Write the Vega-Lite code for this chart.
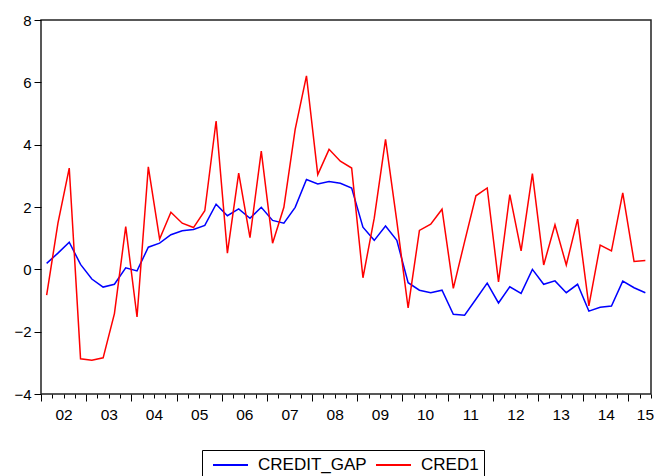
{
  "$schema": "https://vega.github.io/schema/vega-lite/v6.json",
  "width": 610,
  "height": 374,
  "autosize": {"type": "none"},
  "padding": {"left": 41, "top": 20, "right": 3, "bottom": 82},
  "background": "white",
  "config": {
    "font": "Liberation Sans",
    "view": {"stroke": "#222222", "strokeWidth": 1.5}
  },
  "data": {
    "values": [
      {"q": "2002Q1", "t": 2002.125, "CREDIT_GAP": 0.19, "CRED1": -0.83},
      {"q": "2002Q2", "t": 2002.375, "CREDIT_GAP": 0.52, "CRED1": 1.48},
      {"q": "2002Q3", "t": 2002.625, "CREDIT_GAP": 0.87, "CRED1": 3.25},
      {"q": "2002Q4", "t": 2002.875, "CREDIT_GAP": 0.16, "CRED1": -2.87},
      {"q": "2003Q1", "t": 2003.125, "CREDIT_GAP": -0.31, "CRED1": -2.92},
      {"q": "2003Q2", "t": 2003.375, "CREDIT_GAP": -0.57, "CRED1": -2.84},
      {"q": "2003Q3", "t": 2003.625, "CREDIT_GAP": -0.48, "CRED1": -1.42},
      {"q": "2003Q4", "t": 2003.875, "CREDIT_GAP": 0.05, "CRED1": 1.37},
      {"q": "2004Q1", "t": 2004.125, "CREDIT_GAP": -0.05, "CRED1": -1.53},
      {"q": "2004Q2", "t": 2004.375, "CREDIT_GAP": 0.71, "CRED1": 3.29},
      {"q": "2004Q3", "t": 2004.625, "CREDIT_GAP": 0.84, "CRED1": 0.97},
      {"q": "2004Q4", "t": 2004.875, "CREDIT_GAP": 1.11, "CRED1": 1.83},
      {"q": "2005Q1", "t": 2005.125, "CREDIT_GAP": 1.24, "CRED1": 1.48},
      {"q": "2005Q2", "t": 2005.375, "CREDIT_GAP": 1.28, "CRED1": 1.34},
      {"q": "2005Q3", "t": 2005.625, "CREDIT_GAP": 1.41, "CRED1": 1.88},
      {"q": "2005Q4", "t": 2005.875, "CREDIT_GAP": 2.09, "CRED1": 4.76},
      {"q": "2006Q1", "t": 2006.125, "CREDIT_GAP": 1.72, "CRED1": 0.52},
      {"q": "2006Q2", "t": 2006.375, "CREDIT_GAP": 1.94, "CRED1": 3.09},
      {"q": "2006Q3", "t": 2006.625, "CREDIT_GAP": 1.64, "CRED1": 1.02},
      {"q": "2006Q4", "t": 2006.875, "CREDIT_GAP": 1.99, "CRED1": 3.79},
      {"q": "2007Q1", "t": 2007.125, "CREDIT_GAP": 1.57, "CRED1": 0.84},
      {"q": "2007Q2", "t": 2007.375, "CREDIT_GAP": 1.48, "CRED1": 1.99},
      {"q": "2007Q3", "t": 2007.625, "CREDIT_GAP": 1.99, "CRED1": 4.49},
      {"q": "2007Q4", "t": 2007.875, "CREDIT_GAP": 2.88, "CRED1": 6.21},
      {"q": "2008Q1", "t": 2008.125, "CREDIT_GAP": 2.74, "CRED1": 3.04},
      {"q": "2008Q2", "t": 2008.375, "CREDIT_GAP": 2.82, "CRED1": 3.85},
      {"q": "2008Q3", "t": 2008.625, "CREDIT_GAP": 2.76, "CRED1": 3.47},
      {"q": "2008Q4", "t": 2008.875, "CREDIT_GAP": 2.61, "CRED1": 3.25},
      {"q": "2009Q1", "t": 2009.125, "CREDIT_GAP": 1.35, "CRED1": -0.27},
      {"q": "2009Q2", "t": 2009.375, "CREDIT_GAP": 0.93, "CRED1": 1.64},
      {"q": "2009Q3", "t": 2009.625, "CREDIT_GAP": 1.39, "CRED1": 4.17},
      {"q": "2009Q4", "t": 2009.875, "CREDIT_GAP": 0.93, "CRED1": 1.54},
      {"q": "2010Q1", "t": 2010.125, "CREDIT_GAP": -0.43, "CRED1": -1.24},
      {"q": "2010Q2", "t": 2010.375, "CREDIT_GAP": -0.67, "CRED1": 1.25},
      {"q": "2010Q3", "t": 2010.625, "CREDIT_GAP": -0.75, "CRED1": 1.45},
      {"q": "2010Q4", "t": 2010.875, "CREDIT_GAP": -0.67, "CRED1": 1.93},
      {"q": "2011Q1", "t": 2011.125, "CREDIT_GAP": -1.44, "CRED1": -0.61},
      {"q": "2011Q2", "t": 2011.375, "CREDIT_GAP": -1.47, "CRED1": 0.89},
      {"q": "2011Q3", "t": 2011.625, "CREDIT_GAP": -0.96, "CRED1": 2.36},
      {"q": "2011Q4", "t": 2011.875, "CREDIT_GAP": -0.44, "CRED1": 2.61},
      {"q": "2012Q1", "t": 2012.125, "CREDIT_GAP": -1.08, "CRED1": -0.40},
      {"q": "2012Q2", "t": 2012.375, "CREDIT_GAP": -0.56, "CRED1": 2.40},
      {"q": "2012Q3", "t": 2012.625, "CREDIT_GAP": -0.77, "CRED1": 0.59},
      {"q": "2012Q4", "t": 2012.875, "CREDIT_GAP": 0.00, "CRED1": 3.07},
      {"q": "2013Q1", "t": 2013.125, "CREDIT_GAP": -0.48, "CRED1": 0.14},
      {"q": "2013Q2", "t": 2013.375, "CREDIT_GAP": -0.37, "CRED1": 1.43},
      {"q": "2013Q3", "t": 2013.625, "CREDIT_GAP": -0.75, "CRED1": 0.14},
      {"q": "2013Q4", "t": 2013.875, "CREDIT_GAP": -0.48, "CRED1": 1.61},
      {"q": "2014Q1", "t": 2014.125, "CREDIT_GAP": -1.34, "CRED1": -1.17},
      {"q": "2014Q2", "t": 2014.375, "CREDIT_GAP": -1.22, "CRED1": 0.78},
      {"q": "2014Q3", "t": 2014.625, "CREDIT_GAP": -1.18, "CRED1": 0.59},
      {"q": "2014Q4", "t": 2014.875, "CREDIT_GAP": -0.38, "CRED1": 2.45},
      {"q": "2015Q1", "t": 2015.125, "CREDIT_GAP": -0.59, "CRED1": 0.25},
      {"q": "2015Q2", "t": 2015.375, "CREDIT_GAP": -0.75, "CRED1": 0.28}
    ]
  },
  "transform": [{"fold": ["CREDIT_GAP", "CRED1"], "as": ["series", "value"]}],
  "mark": {"type": "line", "strokeWidth": 1.5},
  "encoding": {
    "x": {
      "field": "t",
      "type": "quantitative",
      "scale": {"domain": [2002, 2015.5], "nice": false, "zero": false},
      "axis": {
        "title": null,
        "domain": false,
        "grid": false,
        "values": [2002, 2002.25, 2002.5, 2002.75, 2003, 2003.25, 2003.5, 2003.75, 2004, 2004.25, 2004.5, 2004.75, 2005, 2005.25, 2005.5, 2005.75, 2006, 2006.25, 2006.5, 2006.75, 2007, 2007.25, 2007.5, 2007.75, 2008, 2008.25, 2008.5, 2008.75, 2009, 2009.25, 2009.5, 2009.75, 2010, 2010.25, 2010.5, 2010.75, 2011, 2011.25, 2011.5, 2011.75, 2012, 2012.25, 2012.5, 2012.75, 2013, 2013.25, 2013.5, 2013.75, 2014, 2014.25, 2014.5, 2014.75, 2015, 2015.25, 2015.5],
        "labelExpr": "datum.value % 1 === 0 && datum.value < 2015.5 ? slice(toString(datum.value), 2) : ''",
        "labelOverlap": false,
        "labelFlush": false,
        "labelBound": false,
        "labelOffset": {"condition": {"test": "datum.value === 2015", "value": 16.5}, "value": 22.6},
        "labelFontSize": 15.5,
        "labelColor": "black",
        "labelPadding": 6,
        "tickColor": "black",
        "tickWidth": 1,
        "tickSize": {"condition": {"test": "datum.value % 1 === 0", "value": 7}, "value": 4}
      }
    },
    "y": {
      "field": "value",
      "type": "quantitative",
      "scale": {"domain": [-4, 8], "nice": false, "zero": false},
      "axis": {
        "title": null,
        "domain": false,
        "grid": false,
        "values": [-4, -2, 0, 2, 4, 6, 8],
        "tickSize": 7,
        "tickColor": "black",
        "labelFontSize": 15,
        "labelColor": "black",
        "labelPadding": 3
      }
    },
    "color": {
      "field": "series",
      "type": "nominal",
      "scale": {"domain": ["CREDIT_GAP", "CRED1"], "range": ["#0000ff", "#ff0000"]},
      "legend": {
        "title": null,
        "orient": "none",
        "legendX": 161,
        "legendY": 430,
        "direction": "horizontal",
        "strokeColor": "black",
        "padding": 5,
        "clipHeight": 20,
        "symbolType": "stroke",
        "symbolSize": 1225,
        "symbolOffset": 5,
        "symbolStrokeWidth": 2,
        "labelFontSize": 17,
        "labelColor": "black",
        "labelOffset": 9,
        "columnPadding": 3
      }
    }
  }
}
